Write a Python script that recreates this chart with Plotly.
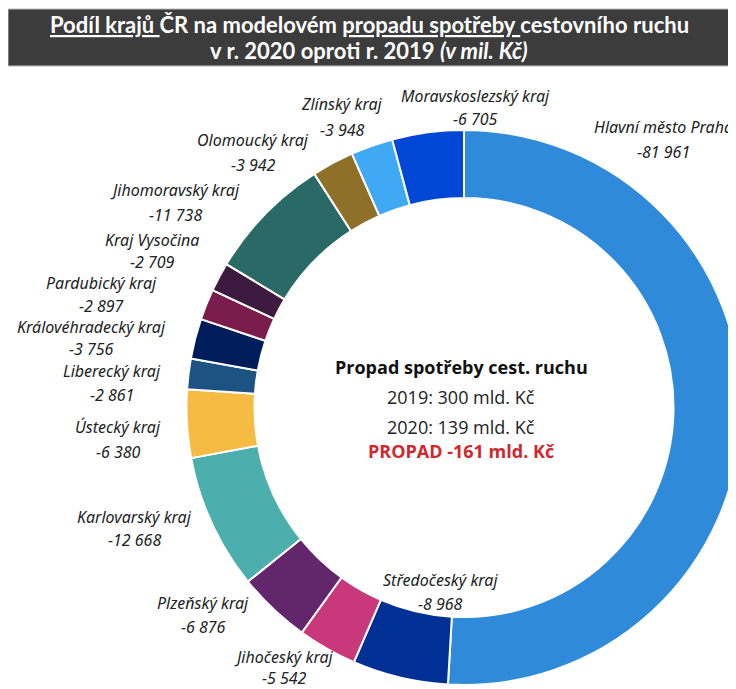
# Podíl krajů ČR na propadu spotřeby cestovního ruchu 2020 vs 2019 (donut chart)

import plotly.graph_objects as go

W, H = 736, 689
OFF = 8  # default body margin of the page

regions = [
    "Hlavní město Praha", "Středočeský kraj", "Jihočeský kraj", "Plzeňský kraj",
    "Karlovarský kraj", "Ústecký kraj", "Liberecký kraj", "Královéhradecký kraj",
    "Pardubický kraj", "Kraj Vysočina", "Jihomoravský kraj", "Olomoucký kraj",
    "Zlínský kraj", "Moravskoslezský kraj",
]
drops = [
    -81961, -8968, -5542, -6876,
    -12668, -6380, -2861, -3756,
    -2897, -2709, -11738, -3942,
    -3948, -6705,
]
colors = [
    "#2F8BD9", "#003093", "#C8387B", "#63256B",
    "#4DAFAD", "#F6BB43", "#1C5382", "#001D5B",
    "#7A1D4D", "#3D1A3F", "#2A6A66", "#8F7029",
    "#3FA9F5", "#0047D6",
]
total_2019 = 300
total_2020 = 139

# label placement in window pixels: (x centre, y of name line, y of value line)
label_pos = [
    (663, 127, 152), (440, 580, 604), (284, 657, 678), (203, 603, 627),
    (135, 517, 540), (118, 427, 452), (112, 371, 395), (91, 327, 349),
    (101, 283, 306), (152, 240, 262), (175, 190, 215), (253, 140, 165),
    (342, 104, 130), (475, 96, 119),
]


def fmt(v):
    return f"{v:,}".replace(",", " ")


def px_x(x):
    return (x - OFF) / W


def px_y(y):
    return 1 - (y - OFF) / H


# donut geometry (window pixels)
cx, cy, r = 464, 407.5, 277.5

fig = go.Figure(
    go.Pie(
        labels=regions,
        values=[-v for v in drops],
        marker=dict(colors=colors, line=dict(color="white", width=2)),
        hole=0.755,
        sort=False,
        direction="clockwise",
        rotation=0,
        textinfo="none",
        hoverinfo="label+value",
        domain=dict(
            x=[px_x(cx - r), px_x(cx + r)],
            y=[px_y(cy + r), px_y(cy - r)],
        ),
    )
)

annotations = []

label_font = dict(family="Noto Sans", size=16, color="#222222")
for name, v, (x, y1, y2) in zip(regions, drops, label_pos):
    annotations.append(dict(
        x=px_x(x), y=px_y(y1), xref="paper", yref="paper",
        text=f"<i>{name}</i>", showarrow=False,
        xanchor="center", yanchor="middle", font=label_font,
    ))
    annotations.append(dict(
        x=px_x(x), y=px_y(y2), xref="paper", yref="paper",
        text=f"<i>{fmt(v)}</i>", showarrow=False,
        xanchor="center", yanchor="middle", font=label_font,
    ))

# centre text
centre_lines = [
    ("<b>Propad spotřeby cest. ruchu</b>", 367, "#111111"),
    (f"2019: {total_2019} mld. Kč", 397, "#222222"),
    (f"2020: {total_2020} mld. Kč", 427, "#222222"),
    (f"<b>PROPAD {round(sum(drops) / 1000)} mld. Kč</b>", 451, "#D0282E"),
]
for text, y, col in centre_lines:
    annotations.append(dict(
        x=px_x(461), y=px_y(y), xref="paper", yref="paper",
        text=text, showarrow=False, xanchor="center", yanchor="middle",
        font=dict(family="Open Sans", size=18, color=col),
    ))

# title
title_font = dict(family="Lato", size=22, color="white")
annotations.append(dict(
    x=px_x(369), y=px_y(25), xref="paper", yref="paper",
    text="<b><u>Podíl krajů </u>ČR na modelovém <u>propadu spotřeby </u>cestovního ruchu</b>",
    showarrow=False, xanchor="center", yanchor="middle", font=title_font,
))
annotations.append(dict(
    x=px_x(369), y=px_y(51), xref="paper", yref="paper",
    text="<b>v r. 2020 oproti r. 2019 <i>(v mil. Kč)</i></b>",
    showarrow=False, xanchor="center", yanchor="middle", font=title_font,
))

fig.update_layout(
    width=W,
    height=H,
    paper_bgcolor="white",
    plot_bgcolor="white",
    showlegend=False,
    margin=dict(l=0, r=0, t=0, b=0),
    annotations=annotations,
    shapes=[
        dict(
            type="rect", xref="paper", yref="paper",
            x0=px_x(8), x1=px_x(744), y0=px_y(66), y1=px_y(9),
            fillcolor="#3C3C3C", line=dict(color="#BDBDBD", width=1),
            layer="below",
        )
    ],
)

fig.write_html("out.html")
